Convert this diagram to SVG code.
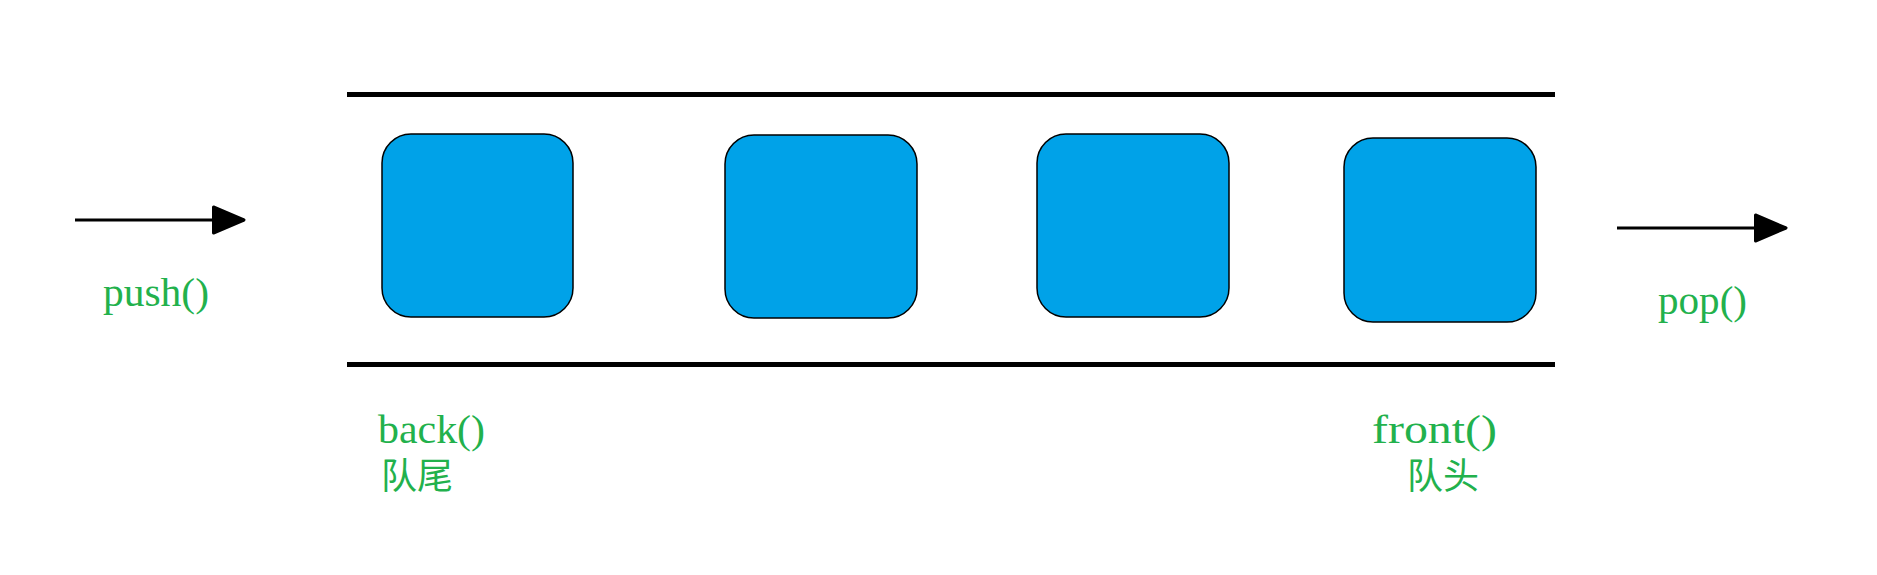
<svg xmlns="http://www.w3.org/2000/svg" width="1877" height="575" viewBox="0 0 1877 575">
  <style>
    .box { fill: #00a2e8; stroke: #000000; stroke-width: 1.5; }
    .rail { stroke: #000000; stroke-width: 5; }
    .conn { stroke: #000000; stroke-width: 3; fill: none; }
    .lbl { fill: #22b14c; font-family: "Liberation Serif", "Noto Sans CJK SC", serif; font-size: 40px; }
    .cjk { fill: #22b14c; font-family: "Noto Sans CJK SC", sans-serif; font-size: 36px; }
  </style>
  <defs>
    <marker id="arrow" viewBox="0 0 34 30" refX="32.5" refY="15" markerWidth="34" markerHeight="30" markerUnits="userSpaceOnUse" orient="auto">
      <path d="M2,2 L32.5,15 L2,28 Z" fill="#000000" stroke="#000000" stroke-width="3" stroke-linejoin="round"/>
    </marker>
  </defs>
  <rect width="1877" height="575" fill="#ffffff"/>
  <g id="rails">
    <line class="rail" x1="347" y1="94.5" x2="1555" y2="94.5"/>
    <line class="rail" x1="347" y1="364.5" x2="1555" y2="364.5"/>
  </g>
  <g id="node1"><rect class="box" x="382" y="134" width="191" height="183" rx="29" ry="29"/></g>
  <g id="node2"><rect class="box" x="725" y="135" width="192" height="183" rx="29" ry="29"/></g>
  <g id="node3"><rect class="box" x="1037" y="134" width="192" height="183" rx="29" ry="29"/></g>
  <g id="node4"><rect class="box" x="1344" y="138" width="192" height="184" rx="29" ry="29"/></g>
  <g id="connectors">
    <line class="conn" x1="75" y1="220" x2="244" y2="220" marker-end="url(#arrow)"/>
    <line class="conn" x1="1617" y1="228" x2="1786" y2="228" marker-end="url(#arrow)"/>
  </g>
  <g id="labels">
    <text class="lbl" x="103" y="306" textLength="106" lengthAdjust="spacingAndGlyphs">push()</text>
    <text class="lbl" x="1658" y="314" textLength="89" lengthAdjust="spacingAndGlyphs">pop()</text>
    <text class="lbl" x="378" y="443" textLength="107" lengthAdjust="spacingAndGlyphs">back()</text>
    <text class="cjk" x="381" y="489">队尾</text>
    <text class="lbl" x="1372" y="443" textLength="125" lengthAdjust="spacingAndGlyphs">front()</text>
    <text class="cjk" x="1407" y="489">队头</text>
  </g>
</svg>
